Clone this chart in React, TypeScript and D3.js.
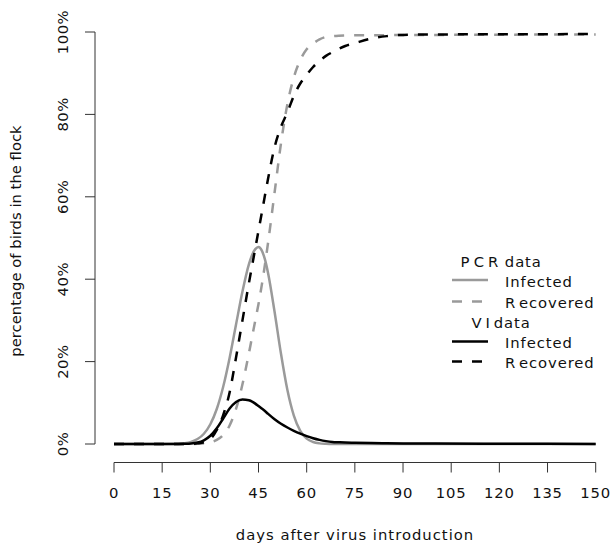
import React from "react";
import * as d3 from "d3";

const days = [0, 10, 20, 22, 24, 26, 28, 30, 32, 34, 36, 38, 40, 42, 43, 44, 45, 46, 47, 48, 50, 52, 54, 56, 58, 60, 62, 64, 66, 68, 70, 72, 75, 80, 85, 90, 100, 120, 150];

const pcrInfected = [0, 0, 0.08, 0.2, 0.53, 1.2, 2.5, 4.8, 8.5, 13.9, 20.9, 29.0, 37.0, 43.6, 45.9, 47.3, 47.8, 47.0, 44.8, 41.4, 32.1, 21.9, 13.1, 6.9, 3.2, 1.3, 0.48, 0.15, 0.04, 0, 0, 0, 0, 0, 0, 0, 0, 0, 0];

const pcrRecovered = [0, 0, 0, 0, 0, 0.05, 0.15, 0.4, 1.0, 2.2, 4.5, 8.5, 14.5, 22, 26, 30, 34, 38.5, 43.5, 49, 61, 73, 82.5, 89, 93.2, 95.8, 97.2, 98.2, 98.8, 99.0, 99.1, 99.15, 99.2, 99.2, 99.25, 99.3, 99.3, 99.35, 99.4];

const viInfected = [0, 0, 0.02, 0.05, 0.12, 0.35, 0.9, 2.0, 3.8, 6.2, 8.6, 10.2, 10.8, 10.6, 10.3, 9.8, 9.2, 8.6, 8.0, 7.3, 6.0, 4.9, 4.0, 3.2, 2.5, 1.9, 1.4, 1.0, 0.7, 0.5, 0.42, 0.35, 0.3, 0.22, 0.18, 0.15, 0.1, 0.06, 0.03];

const viRecovered = [0, 0, 0, 0, 0.05, 0.15, 0.4, 1.2, 3.4, 7, 12.5, 21, 30, 39, 43.3, 47.5, 51.8, 56, 60.3, 64.5, 72, 77, 80.5, 84.5, 87.5, 89.6, 91.5, 93, 94.2, 95.1, 95.9, 96.6, 97.3, 98.4, 99, 99.3, 99.4, 99.45, 99.5];

const xTicks = [0, 15, 30, 45, 60, 75, 90, 105, 120, 135, 150];
const yTicks = [0, 20, 40, 60, 80, 100];

const GRAY = "#9a9a9a";
const BLACK = "#000000";
const TEXT = "#111";
const FONT = "'DejaVu Sans', Verdana, sans-serif";
const FS = 14.8;
const DASH = "10,10";

export default function App() {
  const x = d3.scaleLinear().domain([0, 150]).range([114, 595.7]);
  const y = d3.scaleLinear().domain([0, 100]).range([444, 32]);
  const line = d3
    .line<number>()
    .x((_, i) => x(days[i]))
    .y((d) => y(d))
    .curve(d3.curveMonotoneX);

  const axisY = 462.5;
  const axisX = 95;
  const tickLen = 10;

  const legendX1 = 452;
  const legendX2 = 488;
  const legendTextX = 505;

  return (
    <svg
      width={614}
      height={545}
      style={{ position: "absolute", left: 0, top: 0, background: "#fff" }}
      fontFamily={FONT}
    >
      <rect x={0} y={0} width={614} height={545} fill="#fff" />
      {/* curves */}
      <path d={line(pcrInfected) || ""} fill="none" stroke={GRAY} strokeWidth={2.5} />
      <path d={line(pcrRecovered) || ""} fill="none" stroke={GRAY} strokeWidth={2.5} strokeDasharray={DASH} />
      <path d={line(viInfected) || ""} fill="none" stroke={BLACK} strokeWidth={2.5} />
      <path d={line(viRecovered) || ""} fill="none" stroke={BLACK} strokeWidth={2.5} strokeDasharray={DASH} />

      {/* x axis */}
      <g stroke="#333" strokeWidth={1} fill="none">
        <line x1={x(0)} x2={x(150)} y1={axisY} y2={axisY} />
        {xTicks.map((t) => (
          <line key={t} x1={x(t)} x2={x(t)} y1={axisY} y2={axisY + tickLen} />
        ))}
      </g>
      {xTicks.map((t) => (
        <text key={t} x={x(t)} y={498} textAnchor="middle" fontSize={FS} fill={TEXT} letterSpacing={0.8}>
          {t}
        </text>
      ))}
      <text x={355} y={540} textAnchor="middle" fontSize={FS} fill={TEXT} letterSpacing={1}>
        days after virus introduction
      </text>

      {/* y axis */}
      <g stroke="#333" strokeWidth={1} fill="none">
        <line x1={axisX} x2={axisX} y1={y(0)} y2={y(100)} />
        {yTicks.map((t) => (
          <line key={t} x1={axisX - tickLen} x2={axisX} y1={y(t)} y2={y(t)} />
        ))}
      </g>
      {yTicks.map((t) => (
        <text
          key={t}
          transform={`translate(68,${y(t)}) rotate(-90)`}
          textAnchor="middle"
          fontSize={FS}
          fill={TEXT}
          letterSpacing={0.5}
        >
          {t}%
        </text>
      ))}
      <text
        transform={`translate(20.5,241) rotate(-90)`}
        textAnchor="middle"
        fontSize={FS}
        fill={TEXT}
      >
        percentage of birds in the flock
      </text>

      {/* legend */}
      <g fontSize={FS} fill={TEXT} letterSpacing={0.9}>
        <text x={460.5} y={267}>
          <tspan>P</tspan>
          <tspan dx={3.5}>C</tspan>
          <tspan dx={3}>R</tspan>
          <tspan> data</tspan>
        </text>
        <line x1={legendX1} x2={legendX2} y1={280} y2={280} stroke={GRAY} strokeWidth={2.5} />
        <text x={legendTextX} y={287}>Infected</text>
        <line x1={legendX1} x2={legendX2} y1={301.5} y2={301.5} stroke={GRAY} strokeWidth={2.5} strokeDasharray={DASH} />
        <text x={legendTextX} y={307.5}>
          <tspan>R</tspan>
          <tspan dx={3.5}>ecovered</tspan>
        </text>
        <text x={471.5} y={328}>
          <tspan>V</tspan>
          <tspan dx={3}>I</tspan>
          <tspan dx={3}>data</tspan>
        </text>
        <line x1={legendX1} x2={legendX2} y1={341.5} y2={341.5} stroke={BLACK} strokeWidth={2.5} />
        <text x={legendTextX} y={348}>Infected</text>
        <line x1={legendX1} x2={legendX2} y1={361.5} y2={361.5} stroke={BLACK} strokeWidth={2.5} strokeDasharray={DASH} />
        <text x={legendTextX} y={368}>
          <tspan>R</tspan>
          <tspan dx={3.5}>ecovered</tspan>
        </text>
      </g>
    </svg>
  );
}
